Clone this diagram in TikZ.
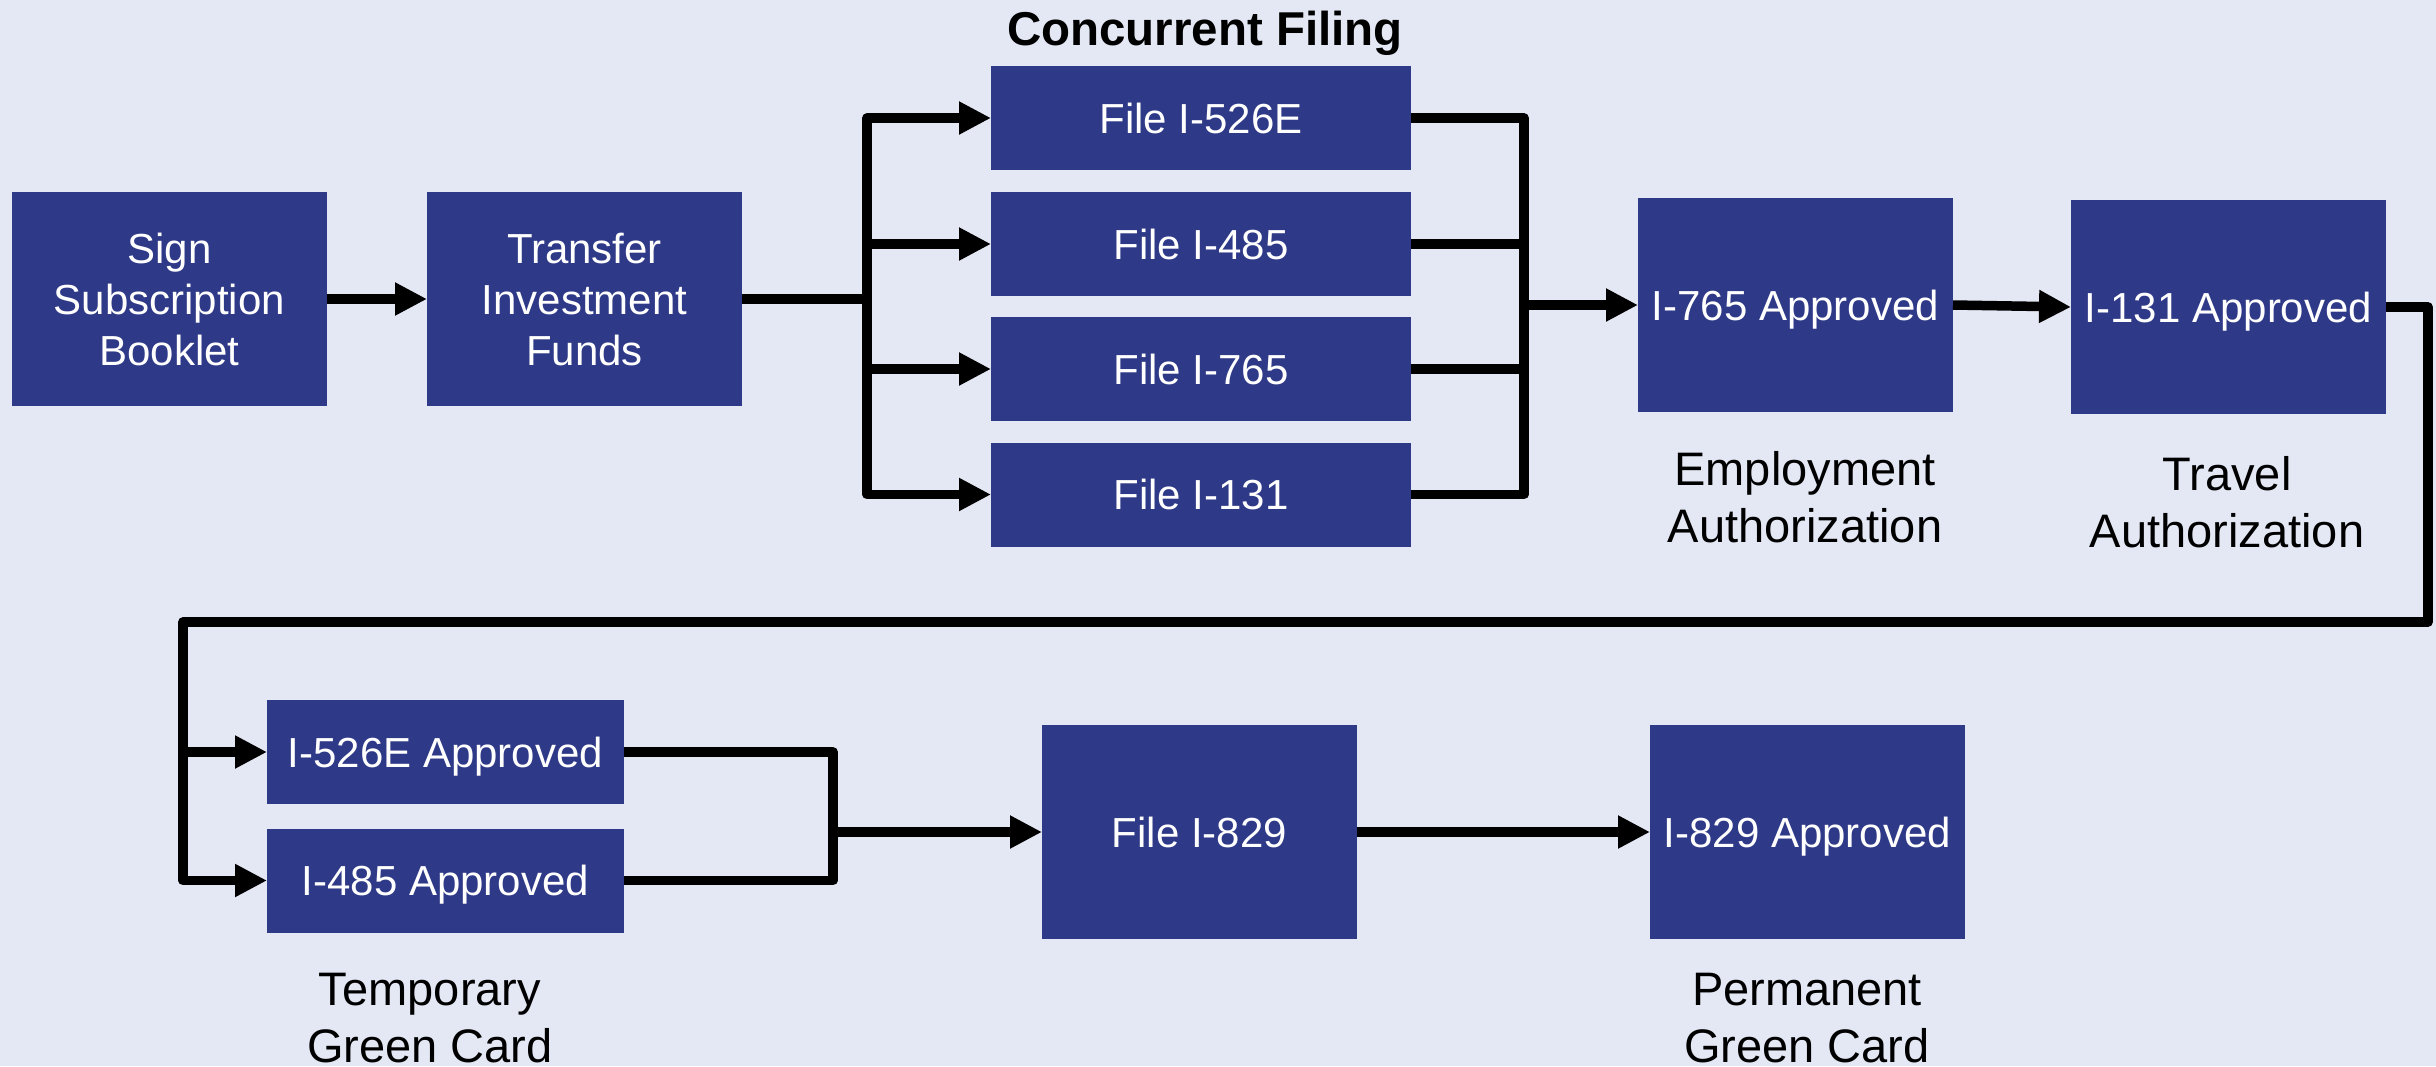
\documentclass[tikz,border=0pt]{standalone}
\usepackage{fontspec}
\setmainfont{Liberation Sans}
\usetikzlibrary{arrows.meta}
\definecolor{pagebg}{RGB}{228,232,244}
\definecolor{boxblue}{RGB}{46,57,135}
\begin{document}
\begin{tikzpicture}[x=1pt,y=-1pt,
  box/.style={fill=boxblue, text=white, inner sep=0pt, outer sep=0pt,
    align=center, text depth=0pt, font=\fontsize{42}{51}\selectfont},
  bigbox/.style={box, minimum width=315pt, minimum height=214pt},
  filebox/.style={box, minimum width=420pt, minimum height=104pt},
  okbox/.style={box, minimum width=357pt, minimum height=104pt},
  caption/.style={align=center, inner sep=0pt, font=\fontsize{47}{57}\selectfont},
  heading/.style={anchor=base, inner sep=0pt, font=\bfseries\fontsize{47.5}{57}\selectfont},
  wire/.style={line width=9.5pt, line join=round},
  arr/.style={wire, -{Triangle[length=32pt,width=31pt]}}]

% page
\fill[pagebg] (0,0) rectangle (2436,1066);
\useasboundingbox (0,0) rectangle (2436,1066);

% first row
\node[bigbox] (sign) at (169.5,299) {Sign\\Subscription\\Booklet};
\node[bigbox] (transfer) at (584.5,299) {Transfer\\Investment\\Funds};

\node[heading] (title) at (1205,45) {Concurrent Filing};
\node[filebox] (f526) at (1201,118) {File I-526E};
\node[filebox] (f485) at (1201,244) {File I-485};
\node[filebox] (f765) at (1201,369) {File I-765};
\node[filebox] (f131) at (1201,494.5) {File I-131};

\node[bigbox] (ok765) at (1795.5,305) {I-765 Approved};
\node[bigbox] (ok131) at (2228.5,307) {I-131 Approved};
\node[caption] (empl) at (1805,497) {Employment\\Authorization};
\node[caption] (travel) at (2227,502) {Travel\\Authorization};

% second row
\node[okbox] (ok526) at (445.5,752) {I-526E Approved};
\node[okbox] (ok485) at (445.5,880.5) {I-485 Approved};
\node[bigbox] (f829) at (1199.5,832) {File I-829};
\node[bigbox] (ok829) at (1807.5,832) {I-829 Approved};
\node[caption] (temp) at (430,1018) {Temporary\\Green Card};
\node[caption] (perm) at (1807,1018) {Permanent\\Green Card};

% branch and join points
\coordinate (splitA) at (867,299);
\coordinate (joinB) at (1524,305);
\coordinate (turn) at (2428,622);
\coordinate (splitC) at (183,622);
\coordinate (joinD) at (833,832);

% connectors
\draw[arr] (sign) -- (transfer);
\draw[wire] (transfer.east) -- (splitA);
\foreach \n in {f526,f485,f765,f131} {
  \draw[arr] (splitA) |- (\n.west);
  \draw[wire] (\n.east) -| (joinB);
}
\draw[arr] (joinB) -- (ok765.west);
\draw[arr] (ok765.east) -- (ok131.west);
\draw[arr] (ok131.east) -| (turn) -- (splitC) |- (ok526.west);
\draw[arr] (splitC) |- (ok485.west);
\draw[wire] (ok526.east) -| (joinD);
\draw[wire] (ok485.east) -| (joinD);
\draw[arr] (joinD) -- (f829.west);
\draw[arr] (f829.east) -- (ok829.west);
\end{tikzpicture}
\end{document}
